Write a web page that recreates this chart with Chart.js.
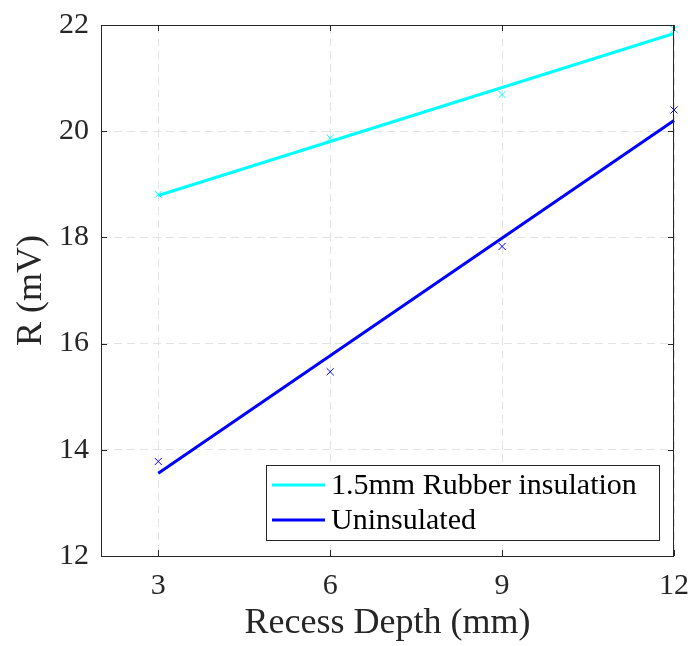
<!DOCTYPE html>
<html>
<head>
<meta charset="utf-8">
<script src="https://cdn.jsdelivr.net/npm/chart.js@4"></script>
<style>
  html, body { margin: 0; padding: 0; background: #fff; }
  #wrap { width: 692px; height: 646px; }
</style>
</head>
<body>
<div id="wrap"><canvas id="myChart"></canvas></div>
<script>
  // data
  const depths = [3, 6, 9, 12];
  const rubberMeas = [18.81, 19.87, 20.69, 21.92];
  const bareMeas = [13.78, 15.47, 17.83, 20.40];
  const fitX = [3, 12];
  const rubberFit = [18.79, 21.84];
  const bareFit = [13.56, 20.20];
  const xTicks = [3, 6, 9, 12];
  const yTicks = [12, 14, 16, 18, 20, 22];
  const names = ['1.5mm Rubber insulation', 'Uninsulated'];

  const cyan = '#00ffff';
  const blue = '#0000ff';
  const axisCol = '#262626';
  const serif = "'Liberation Serif', 'DejaVu Serif', serif";

  const pts = (xs, ys) => xs.map((x, i) => ({ x: x, y: ys[i] }));

  // box around plot, inward ticks and legend inside axes
  const boxPlugin = {
    id: 'box',
    afterDatasetsDraw(chart) {
      const { ctx, chartArea: a, scales } = chart;
      ctx.save();
      ctx.strokeStyle = axisCol;
      ctx.lineWidth = 1;
      ctx.strokeRect(a.left + 0.5, a.top + 0.5, a.right - a.left - 1, a.bottom - a.top);
      ctx.beginPath();
      xTicks.forEach(v => {
        const px = Math.round(scales.x.getPixelForValue(v)) + 0.5;
        ctx.moveTo(px, a.bottom); ctx.lineTo(px, a.bottom - 6);
        ctx.moveTo(px, a.top); ctx.lineTo(px, a.top + 6);
      });
      yTicks.forEach(v => {
        const py = Math.round(scales.y.getPixelForValue(v)) + 0.5;
        ctx.moveTo(a.left, py); ctx.lineTo(a.left + 6, py);
        ctx.moveTo(a.right, py); ctx.lineTo(a.right - 6, py);
      });
      ctx.stroke();

      // legend
      const lx = 266, ly = 465, lw = 393, lh = 75;
      ctx.fillStyle = '#fff';
      ctx.fillRect(lx, ly, lw, lh);
      ctx.strokeRect(lx + 0.5, ly + 0.5, lw, lh);
      const rows = [[names[0], cyan, 485], [names[1], blue, 520]];
      ctx.font = '30px ' + serif;
      ctx.textBaseline = 'middle';
      rows.forEach(r => {
        ctx.strokeStyle = r[1];
        ctx.lineWidth = 3;
        ctx.beginPath();
        ctx.moveTo(272, r[2]); ctx.lineTo(325, r[2]);
        ctx.stroke();
        ctx.fillStyle = '#000';
        ctx.fillText(r[0], 331, r[2] + 1);
      });
      ctx.restore();
    }
  };

  new Chart(document.getElementById('myChart'), {
    type: 'scatter',
    data: {
      datasets: [
        { data: pts(fitX, rubberFit), showLine: true, borderColor: cyan, borderWidth: 3, pointRadius: 0 },
        { data: pts(fitX, bareFit), showLine: true, borderColor: blue, borderWidth: 3, pointRadius: 0 },
        { data: pts(depths, rubberMeas), pointStyle: 'crossRot', pointRadius: 5, borderColor: cyan, borderWidth: 1 },
        { data: pts(depths, bareMeas), pointStyle: 'crossRot', pointRadius: 5, borderColor: blue, borderWidth: 1 }
      ]
    },
    options: {
      maintainAspectRatio: false,
      animation: false,
      clip: false,
      layout: { padding: { left: 0, right: 18, top: 25, bottom: 0 } },
      plugins: { legend: { display: false }, tooltip: { enabled: false } },
      scales: {
        x: {
          type: 'linear', min: 2, max: 12,
          afterBuildTicks: s => { s.ticks = xTicks.map(v => ({ value: v })); },
          afterFit: s => { s.height = 90; s.paddingLeft = 0; s.paddingRight = 0; },
          grid: { color: '#e3e3e3', drawTicks: false },
          border: { display: false, dash: [8, 5] },
          ticks: { color: axisCol, padding: 12, font: { family: serif, size: 30 } },
          title: { display: true, text: 'Recess Depth (mm)', color: axisCol,
                   font: { family: serif, size: 36 }, padding: { top: 0, bottom: 1 } }
        },
        y: {
          min: 12, max: 22,
          afterBuildTicks: s => { s.ticks = yTicks.map(v => ({ value: v })); },
          afterFit: s => { s.width = 101; s.paddingTop = 0; s.paddingBottom = 0; },
          grid: { color: '#e3e3e3', drawTicks: false },
          border: { display: false, dash: [8, 5] },
          ticks: { color: axisCol, padding: 12, font: { family: serif, size: 30 } },
          title: { display: true, text: 'R (mV)', color: axisCol,
                   font: { family: serif, size: 36 }, padding: { top: 10, bottom: 0 } }
        }
      }
    },
    plugins: [boxPlugin]
  });
</script>
</body>
</html>
